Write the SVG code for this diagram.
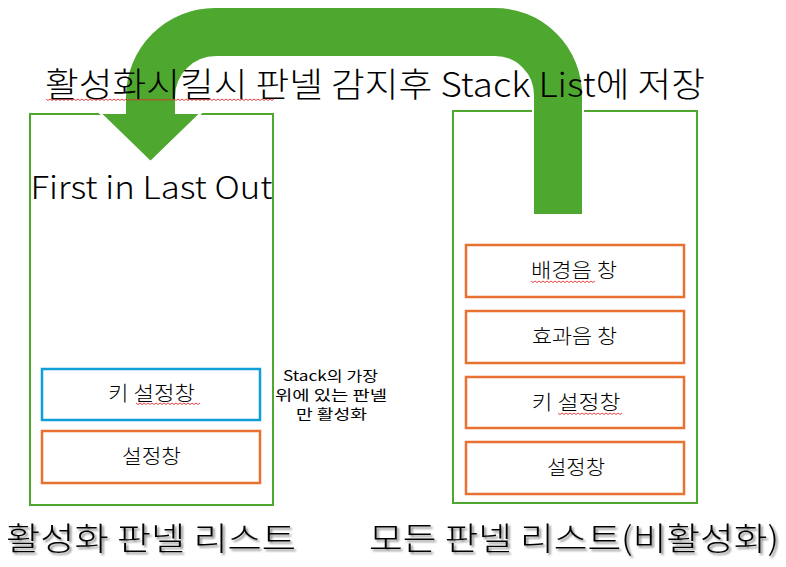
<svg xmlns="http://www.w3.org/2000/svg" width="786" height="567" viewBox="0 0 786 567">
<style>
text{font-family:"Noto Sans CJK KR","Noto Sans",sans-serif;fill:#000;font-weight:300;}
.panel{fill:none;stroke:#4EA72E;stroke-width:2;}
.item{fill:#fff;stroke:#E97132;stroke-width:2.5;}
.active{fill:#fff;stroke:#0F9ED5;stroke-width:2.5;}
.lbl{font-size:20px;text-anchor:middle;}
.note{font-size:14px;text-anchor:middle;font-weight:400;}
.big{font-size:31px;}
.squig{fill:none;stroke:#E03030;stroke-width:0.9;}
</style>
<defs>
<filter id="shadow" x="-5%" y="-20%" width="115%" height="150%">
<feDropShadow dx="2" dy="2" stdDeviation="1.2" flood-color="#000" flood-opacity="0.5"/>
</filter>
</defs>
<rect width="786" height="567" fill="#fff"/>
<g id="active-panel">
<rect class="panel" x="30" y="114" width="243" height="391"/>
</g>
<g id="all-panel">
<rect class="panel" x="453" y="111" width="244" height="392"/>
</g>
<g id="connectors">
<path d="M 533 215 L 583 215 L 583 95 A 88 88 0 0 0 495 7 L 215 7 A 90 90 0 0 0 125 97 L 125 113 L 100 113 L 150.5 162 L 201 113 L 176 113 L 176 97 A 40 40 0 0 1 216 57 L 495 57 A 38 38 0 0 1 533 95 Z" fill="#4EA72E" stroke="#fff" stroke-width="2"/>
</g>
<g id="title">
<text x="375" y="97" font-size="34" text-anchor="middle" textLength="660" lengthAdjust="spacingAndGlyphs">활성화시킬시 판넬 감지후 Stack List에 저장</text>
<path class="squig" d="M46 99 l2 1.5 l2 -1.5 l2 1.5 l2 -1.5 l2 1.5 l2 -1.5 l2 1.5 l2 -1.5 l2 1.5 l2 -1.5 l2 1.5 l2 -1.5 l2 1.5 l2 -1.5 l2 1.5 l2 -1.5 l2 1.5 l2 -1.5 l2 1.5 l2 -1.5 l2 1.5 l2 -1.5 l2 1.5 l2 -1.5 l2 1.5 l2 -1.5 l2 1.5 l2 -1.5 l2 1.5 l2 -1.5 l2 1.5 l2 -1.5 l2 1.5 l2 -1.5 l2 1.5 l2 -1.5 l2 1.5 l2 -1.5 l2 1.5 l2 -1.5 l2 1.5 l2 -1.5 l2 1.5 l2 -1.5 l2 1.5 l2 -1.5 l2 1.5 l2 -1.5 l2 1.5 l2 -1.5 l2 1.5 l2 -1.5 l2 1.5 l2 -1.5 l2 1.5 l2 -1.5 l2 1.5 l2 -1.5 l2 1.5 l2 -1.5 l2 1.5 l2 -1.5 l2 1.5 l2 -1.5 l2 1.5 l2 -1.5 l2 1.5 l2 -1.5 l2 1.5 l2 -1.5 l2 1.5 l2 -1.5 l2 1.5 l2 -1.5 l2 1.5 l2 -1.5 l2 1.5 l2 -1.5 l2 1.5 l2 -1.5 l2 1.5 l2 -1.5 l2 1.5 l2 -1.5 l2 1.5 l2 -1.5 l2 1.5 l2 -1.5 l2 1.5 l2 -1.5 l2 1.5 l2 -1.5 l2 1.5 l2 -1.5 l2 1.5 l2 -1.5 l2 1.5 l2 -1.5 l2 1.5 l2 -1.5 l2 1.5 l2 -1.5 l2 1.5 l2 -1.5 l2 1.5 l2 -1.5 l2 1.5 l2 -1.5 l2 1.5 l2 -1.5 l2 1.5 l2 -1.5 l2 1.5 l2 -1.5"/>
</g>
<g id="fifo-label">
<text class="big" x="151.5" y="199" text-anchor="middle" textLength="242" lengthAdjust="spacingAndGlyphs">First in Last Out</text>
</g>
<g id="left-key">
<rect class="active" x="42" y="369" width="218" height="51"/>
<text class="lbl" x="151.5" y="401" textLength="87" lengthAdjust="spacingAndGlyphs">키 설정창</text>
<path class="squig" d="M136 403 l2 1.5 l2 -1.5 l2 1.5 l2 -1.5 l2 1.5 l2 -1.5 l2 1.5 l2 -1.5 l2 1.5 l2 -1.5 l2 1.5 l2 -1.5 l2 1.5 l2 -1.5 l2 1.5 l2 -1.5 l2 1.5 l2 -1.5 l2 1.5 l2 -1.5 l2 1.5 l2 -1.5 l2 1.5 l2 -1.5 l2 1.5 l2 -1.5 l2 1.5 l2 -1.5 l2 1.5 l2 -1.5 l2 1.5 l2 -1.5"/>
</g>
<g id="left-settings">
<rect class="item" x="42" y="431" width="218" height="52"/>
<text class="lbl" x="151.5" y="464" textLength="59" lengthAdjust="spacingAndGlyphs">설정창</text>
</g>
<g id="note">
<text class="note" x="330.5" y="381" textLength="95" lengthAdjust="spacingAndGlyphs">Stack의 가장</text>
<text class="note" x="331" y="400" textLength="112" lengthAdjust="spacingAndGlyphs">위에 있는 판넬</text>
<text class="note" x="331.5" y="419" textLength="71" lengthAdjust="spacingAndGlyphs">만 활성화</text>
</g>
<g id="right-bgm">
<rect class="item" x="466" y="245" width="218" height="52"/>
<text class="lbl" x="574" y="278" textLength="86" lengthAdjust="spacingAndGlyphs">배경음 창</text>
<path class="squig" d="M531 281 l2 1.5 l2 -1.5 l2 1.5 l2 -1.5 l2 1.5 l2 -1.5 l2 1.5 l2 -1.5 l2 1.5 l2 -1.5 l2 1.5 l2 -1.5 l2 1.5 l2 -1.5 l2 1.5 l2 -1.5 l2 1.5 l2 -1.5 l2 1.5 l2 -1.5 l2 1.5 l2 -1.5 l2 1.5 l2 -1.5 l2 1.5 l2 -1.5 l2 1.5 l2 -1.5 l2 1.5 l2 -1.5 l2 1.5 l2 -1.5"/>
</g>
<g id="right-sfx">
<rect class="item" x="466" y="311" width="218" height="52"/>
<text class="lbl" x="574.5" y="344" textLength="85" lengthAdjust="spacingAndGlyphs">효과음 창</text>
</g>
<g id="right-key">
<rect class="item" x="466" y="377" width="218" height="51"/>
<text class="lbl" x="576" y="410" textLength="89" lengthAdjust="spacingAndGlyphs">키 설정창</text>
<path class="squig" d="M558 413 l2 1.5 l2 -1.5 l2 1.5 l2 -1.5 l2 1.5 l2 -1.5 l2 1.5 l2 -1.5 l2 1.5 l2 -1.5 l2 1.5 l2 -1.5 l2 1.5 l2 -1.5 l2 1.5 l2 -1.5 l2 1.5 l2 -1.5 l2 1.5 l2 -1.5 l2 1.5 l2 -1.5 l2 1.5 l2 -1.5 l2 1.5 l2 -1.5 l2 1.5 l2 -1.5 l2 1.5 l2 -1.5 l2 1.5 l2 -1.5"/>
</g>
<g id="right-settings">
<rect class="item" x="466" y="442" width="218" height="52"/>
<text class="lbl" x="576" y="475" textLength="58" lengthAdjust="spacingAndGlyphs">설정창</text>
</g>
<g id="captions" filter="url(#shadow)">
<text x="151" y="550" font-size="32" text-anchor="middle" textLength="290" lengthAdjust="spacingAndGlyphs">활성화 판넬 리스트</text>
<text x="574" y="550" font-size="32" text-anchor="middle" textLength="410" lengthAdjust="spacingAndGlyphs">모든 판넬 리스트(비활성화)</text>
</g>
</svg>
